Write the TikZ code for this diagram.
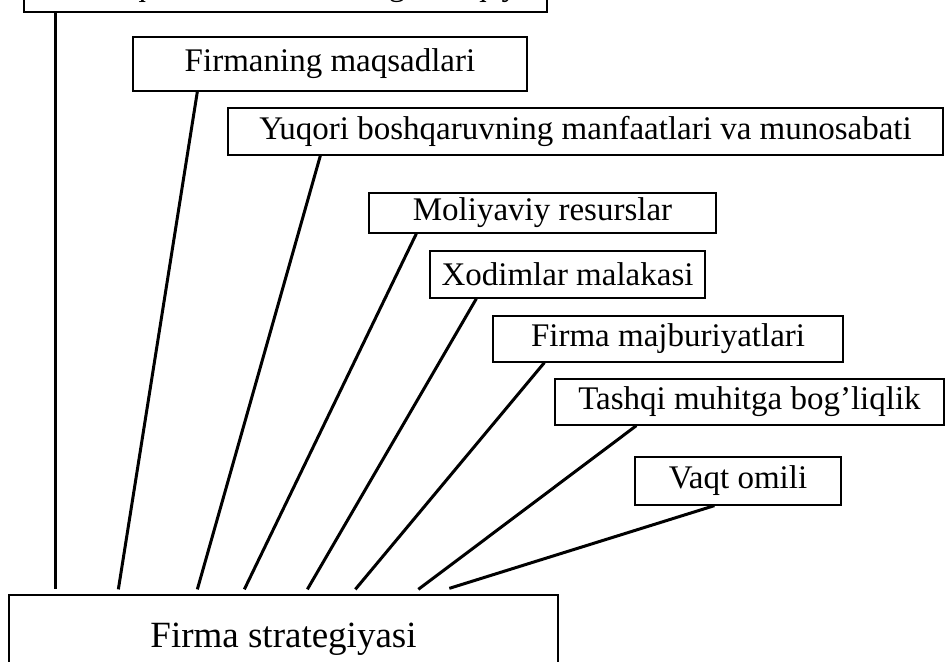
\documentclass[tikz,border=0pt]{standalone}
\usepackage{fontspec}
\setmainfont{Liberation Serif}
\begin{document}
\begin{tikzpicture}[x=1pt,y=-1pt,
  factor/.style={draw, line width=1.3pt, inner sep=0pt, font=\fontsize{33}{38}\selectfont},
  link/.style={line width=3pt}]
\useasboundingbox (0,0) rectangle (947,661);
\clip (0,0) rectangle (947,661);

% factor boxes (the first one runs off the top edge)
\node[factor, minimum width=523, minimum height=50] (top) at (285.5,-13) {\smash{\raisebox{-9pt}{Tarmoq kuchi va firmaning mavqeyi}}};
\node[factor, minimum width=394, minimum height=54] (m1) at (330,64) {Firmaning maqsadlari};
\node[factor, minimum width=715, minimum height=47] (m2) at (585.5,131.5) {Yuqori boshqaruvning manfaatlari va munosabati};
\node[factor, minimum width=347, minimum height=40] (m3) at (542.5,213) {Moliyaviy resurslar};
\node[factor, minimum width=275, minimum height=47] (m4) at (567.5,274.5) {Xodimlar malakasi};
\node[factor, minimum width=350, minimum height=46] (m5) at (668,339) {Firma majburiyatlari};
\node[factor, minimum width=389, minimum height=46] (m6) at (749.5,402) {Tashqi muhitga bog’liqlik};
\node[factor, minimum width=206, minimum height=48] (m7) at (738,481) {Vaqt omili};

% strategy box
\node[factor, minimum width=549, minimum height=88, font=\fontsize{37}{42}\selectfont] (fs) at (283.5,639) {Firma strategiyasi};

% connectors into the strategy box
\draw[link] ([xshift=32]top.south west) -- ([xshift=47,yshift=5]fs.north west);
\draw[link] ([xshift=65]m1.south west)  -- ([xshift=110,yshift=5]fs.north west);
\draw[link] ([xshift=93]m2.south west)  -- ([xshift=189,yshift=5]fs.north west);
\draw[link] ([xshift=48]m3.south west)  -- ([xshift=236,yshift=5]fs.north west);
\draw[link] ([xshift=47]m4.south west)  -- ([xshift=299,yshift=5]fs.north west);
\draw[link] ([xshift=52]m5.south west)  -- ([xshift=347,yshift=5]fs.north west);
\draw[link] ([xshift=82]m6.south west)  -- ([xshift=410,yshift=5]fs.north west);
\draw[link] ([xshift=80]m7.south west)  -- ([xshift=441,yshift=6]fs.north west);
\end{tikzpicture}
\end{document}
